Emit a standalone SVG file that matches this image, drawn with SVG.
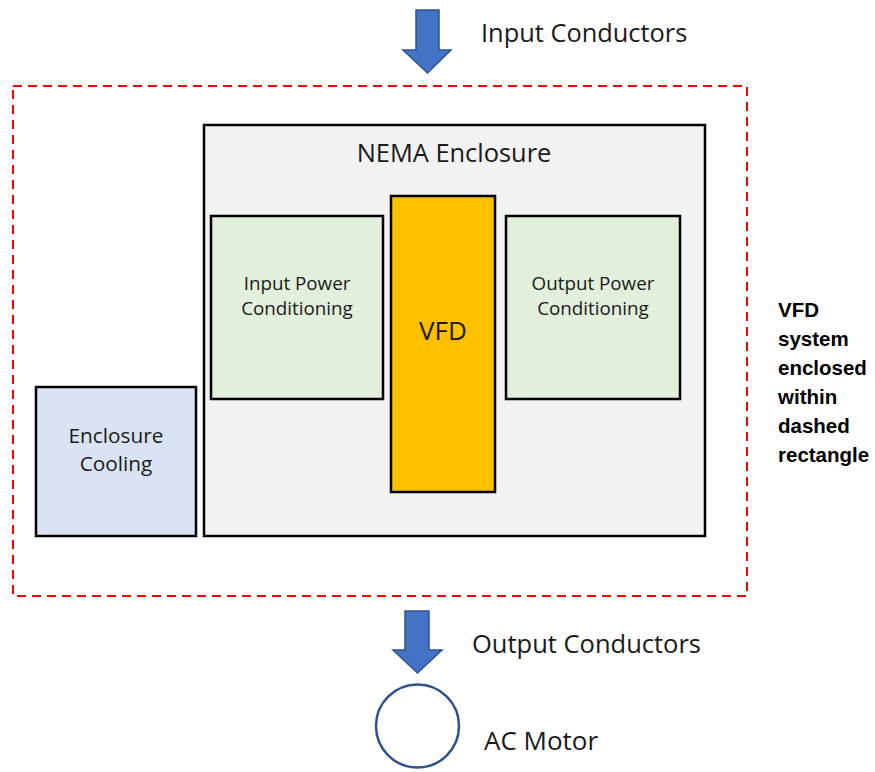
<svg xmlns="http://www.w3.org/2000/svg" width="875" height="772" viewBox="0 0 875 772">
<style>
text{font-family:"Open Sans","Liberation Sans",sans-serif;fill:#1a1a1a}
.box{stroke:#000;stroke-width:2.5}
.arrow{fill:#4472c4;stroke:#2f528f;stroke-width:1.5}
.lbl{font-size:25.4px}
.sm{font-size:18.8px;text-anchor:middle}
.bold{font-family:"Liberation Sans",sans-serif;font-weight:bold;font-size:20.5px;fill:#000}
</style>
<rect width="875" height="772" fill="#fff"/>
<g id="system-boundary">
<rect x="13" y="86" width="734" height="510" fill="none" stroke="#ff0000" stroke-width="2" stroke-dasharray="9,6"/>
</g>
<g id="nema-enclosure">
<rect class="box" x="204" y="125" width="501" height="411" fill="#f2f2f2"/>
<text class="lbl" x="454" y="162" text-anchor="middle">NEMA Enclosure</text>
</g>
<g id="input-power-conditioning">
<rect class="box" x="211" y="216" width="172" height="183" fill="#e2efda"/>
<text class="sm" x="297" y="290">Input Power</text>
<text class="sm" x="297" y="315">Conditioning</text>
</g>
<g id="vfd">
<rect class="box" x="391" y="196" width="104" height="296" fill="#ffc000"/>
<text x="443" y="340" font-size="26" text-anchor="middle">VFD</text>
</g>
<g id="output-power-conditioning">
<rect class="box" x="506" y="216" width="174" height="183" fill="#e2efda"/>
<text class="sm" x="593" y="290">Output Power</text>
<text class="sm" x="593" y="315">Conditioning</text>
</g>
<g id="enclosure-cooling">
<rect class="box" x="36" y="387" width="160" height="149" fill="#dae3f3"/>
<text x="116" y="443" font-size="20.8" text-anchor="middle">Enclosure</text>
<text x="116" y="471" font-size="20.8" text-anchor="middle">Cooling</text>
</g>
<g id="ac-motor">
<circle cx="417.5" cy="726" r="41.5" fill="#fff" stroke="#2f528f" stroke-width="2.5"/>
<text x="484" y="750" font-size="26">AC Motor</text>
</g>
<g id="connectors">
<g id="input-conductors">
<polygon class="arrow" points="416,10 439,10 439,50 451,50 427.5,73 403,50 416,50"/>
<text x="481" y="42" font-size="25.4">Input Conductors</text>
</g>
<g id="output-conductors">
<polygon class="arrow" points="405,611 429,611 429,650 442,650 417.5,673 393,650 405,650"/>
<text x="472" y="653" font-size="25.5">Output Conductors</text>
</g>
</g>
<g id="note">
<text class="bold" x="778" y="317">VFD</text>
<text class="bold" x="778" y="346">system</text>
<text class="bold" x="778" y="375">enclosed</text>
<text class="bold" x="778" y="404">within</text>
<text class="bold" x="778" y="433">dashed</text>
<text class="bold" x="778" y="462">rectangle</text>
</g>
</svg>
